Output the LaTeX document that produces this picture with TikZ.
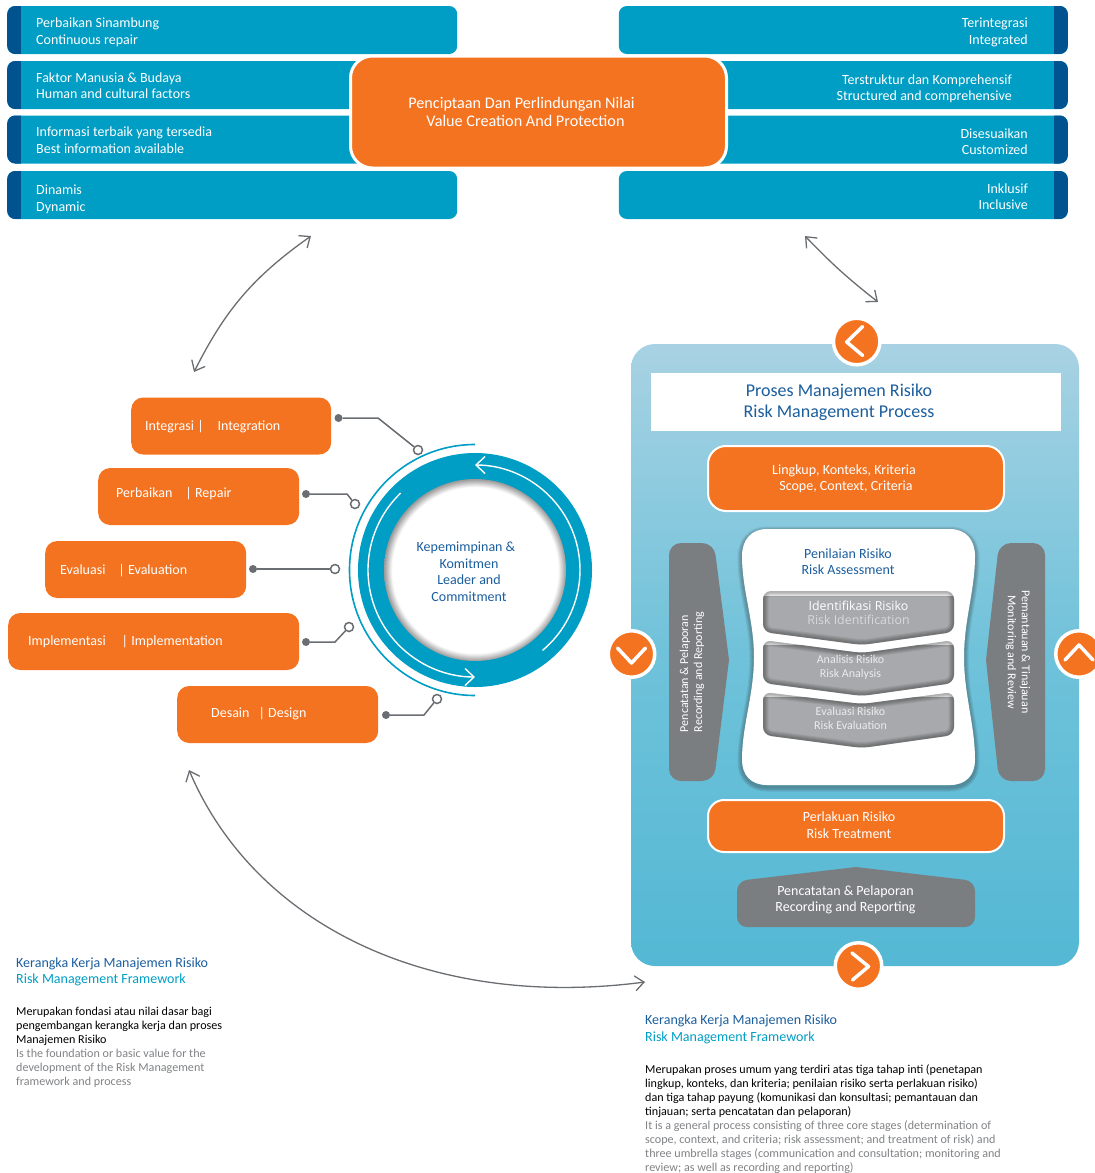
\documentclass[tikz,border=0pt]{standalone}
\usepackage{fontspec}
\setmainfont{Carlito}
\newfontfamily\Aidentfont{Open Sans}
\usetikzlibrary{arrows.meta}
\usetikzlibrary{calc}
\definecolor{Aorange}{HTML}{F47321}
\definecolor{Ablue}{HTML}{009DC4}
\definecolor{Adarkblue}{HTML}{00538F}
\definecolor{Ahead}{HTML}{1B5E9E}
\definecolor{Agrey}{HTML}{7B7E81}
\definecolor{Aline}{HTML}{6A6D71}
\definecolor{Atext}{HTML}{808285}
\definecolor{Achev}{HTML}{A7A9AC}
\definecolor{Apanelt}{HTML}{A8D2E3}
\definecolor{Apanelm}{HTML}{6FC2DA}
\definecolor{Apanelb}{HTML}{54B8D4}
\pgfdeclareradialshading{Acircleshade}{\pgfpointorigin}{color(0bp)=(white);color(22.8bp)=(white);color(25bp)=(black!40);color(50bp)=(black!40)}
\tikzset{
  txt/.style={font=\fontsize{14}{16.5}\selectfont,inner sep=0pt},
  dn/.style={execute at begin node={\rule{0pt}{#1}\spaceskip=.23em\relax}},
  barL/.style={txt,dn=0pt,fill=Ablue,text=white,rounded corners=8pt,anchor=west,minimum width=450pt,minimum height=48pt,
    inner xsep=29pt,text width=392pt,align=left,
    path picture={\fill[Adarkblue,sharp corners] (path picture bounding box.south west) rectangle ++(14,60);}},
  barR/.style={txt,dn=0pt,fill=Ablue,text=white,rounded corners=8pt,anchor=east,minimum width=449pt,minimum height=48pt,
    inner xsep=40pt,text width=369pt,align=right,
    path picture={\fill[Adarkblue,sharp corners] (path picture bounding box.south east) rectangle ++(-14,60);}},
  pill/.style 2 args={txt,dn=0pt,fill=Aorange,text=white,rounded corners=12pt,anchor=west,minimum height=57pt,
    inner xsep=#1,text width=#2-2*#1,align=left},
  stepbox/.style={fill=Aorange,draw=white,line width=2pt,rounded corners=16pt},
  dot/.style={circle,fill=Aline,inner sep=0pt,minimum size=8pt},
  ring/.style={circle,fill=white,draw=Aline,line width=1.5pt,inner sep=0pt,minimum size=9pt},
  wire/.style={draw=Aline,line width=1.5pt},
  link/.style={draw=Aline,line width=1.3pt,{Straight Barb[length=9pt,width=15pt]}-{Straight Barb[length=9pt,width=15pt]}},
  knob/.style={circle,fill=Aorange,draw=white,line width=3.5pt,inner sep=0pt,minimum size=46.5pt},
  chev/.style={draw=white,line width=3.5pt,line cap=round,line join=round},
  chevtxt/.style={font=\fontsize{12}{14}\selectfont,inner sep=0pt,align=center},
  para/.style={font=\fontsize{12.1}{14.05}\selectfont,inner sep=0pt,anchor=north west,align=left},
  headtxt/.style={txt,anchor=north west,align=left},
}
\newcommand{\Achevron}[4]{%
  \def\Apath{(763,-#1) -- (862,-#2) -- (954,-#1) -- (954,-#3) -- (862,-#4) -- (763,-#3) -- cycle}
  \begin{scope}
    \clip[rounded corners=8pt] \Apath;
    \fill[Achev] (760,-#1-5) rectangle (960,-#4-5);
    \foreach \w in {11,9,7,5,3}
      \draw[black,opacity=0.07,line width=\w pt,rounded corners=8pt] \Apath;
  \end{scope}
}

\begin{document}
\begin{tikzpicture}[x=1pt,y=1pt]
  \useasboundingbox (0,0) rectangle (1095,-1173);

  \node [barL,dn=14pt] (Arepair) at (7,-30) {Perbaikan Sinambung\\Continuous repair};
  \node [barL,dn=11pt] (Ahuman) at (7,-85) {Faktor Manusia \& Budaya\\Human and cultural factors};
  \node [barL,dn=11pt] (Abest) at (7,-139.5) {Informasi terbaik yang tersedia\\Best information available};
  \node [barL,dn=18pt] (Adynamic) at (7,-195) {Dinamis\\Dynamic};

  \node [barR,dn=14pt] (Bintegrated) at (1068,-30) {Terintegrasi\\Integrated};
  \node [barR,dn=17pt,inner xsep=56pt,text width=337pt] (Bstructured) at (1068,-85) {Terstruktur dan Komprehensif\hspace*{4pt}\\Structured and comprehensive};
  \node [barR,dn=14pt] (Bcustom) at (1068,-139.5) {Disesuaikan\\Customized};
  \node [barR,dn=13pt] (Binclusive) at (1068,-195) {Inklusif\\Inclusive};

  \node [fill=Aorange,draw=white,line width=3pt,rounded corners=22pt,minimum width=376pt,minimum height=112pt] (Avalue) at (538.5,-112) {};
  \node [txt,text=white,font=\fontsize{16.2}{18}\selectfont,align=center] (Avaluelab) at (521.5,-112) {Penciptaan Dan Perlindungan Nilai\\\hspace*{8pt}Value Creation And Protection};

  % arrows between the three parts
  \coordinate (Ltop) at (311,-236);
  \coordinate (Lbot) at (194,-372);
  \coordinate (Rtop) at (805,-236);
  \coordinate (Rbot) at (878,-302);
  \coordinate (Bleft) at (189,-770);
  \coordinate (Bright) at (645,-982);
  \path [link] (Ltop) to[bend right=14] (Lbot);
  \path [link] (Rtop) to[bend right=4] (Rbot);
  \path [link] (Bleft) .. controls (255,-925) and (430,-1010) .. (Bright);

  % framework pills
  \node [pill={14pt}{200pt}] (Pinteg) at (131,-426) {\raisebox{-1pt}[\height][\depth]{Integrasi |\hspace{14pt}Integration}};
  \node [pill={18pt}{201pt}] (Prepair) at (98,-496.5) {\raisebox{3pt}[\height][\depth]{Perbaikan\hspace{13pt}| Repair}};
  \node [pill={15pt}{201pt}] (Peval) at (45,-569.5) {\raisebox{-1pt}[\height][\depth]{Evaluasi\hspace{13pt}| Evaluation}};
  \node [pill={20pt}{291pt}] (Pimpl) at (8,-641.5) {Implementasi\hspace{16pt}| Implementation};
  \node [pill={34pt}{201pt}] (Pdesign) at (177,-714.5) {\raisebox{1pt}[\height][\depth]{Desain\hspace{9pt}| Design}};

  % leader circle
  \node [circle,fill=Ablue,minimum size=234pt,inner sep=0pt] (Aring) at (475,-570) {};
  \node [circle,shading=Acircleshade,minimum size=182pt,inner sep=0pt] (Ainner) at (475,-570) {};
  \node [txt,text=Ahead,align=center] (Ainnerlab) at (469,-571.5) {Kepemimpinan \&\hspace*{6pt}\\Komitmen\\Leader and\\Commitment};
  \draw [Ablue,line width=1.6pt] (Aring.center) ++(90:125.5) arc[start angle=90,end angle=270,radius=125.5];
  \draw [white,line width=1.4pt,-{Straight Barb[length=9pt,width=17pt]}] (Aring.center) ++(-50:105) arc[start angle=-50,end angle=90,radius=105];
  \draw [white,line width=1.4pt,-{Straight Barb[length=9pt,width=17pt]}] (Aring.center) ++(134:107) arc[start angle=134,end angle=270,radius=107];

  % wires
  \node [dot] (D1) at (338.5,-418) {};
  \node [ring] (C1) at (418,-450) {};
  \node [dot] (D2) at (306,-494) {};
  \node [ring] (C2) at (355,-504) {};
  \node [dot] (D3) at (253,-569) {};
  \node [ring] (C3) at (335,-569) {};
  \node [dot] (D4) at (306,-642) {};
  \node [ring] (C4) at (349,-627) {};
  \node [dot] (D5) at (386,-715) {};
  \node [ring] (C5) at (437,-699) {};
  \path [wire] (D1) -- (378,-418) -- (C1);
  \path [wire] (D2) -- (347,-494) -- (C2);
  \path [wire] (D3) -- (C3);
  \path [wire] (D4) -- (335,-642) -- (C4);
  \path [wire] (D5) -- (424,-715) -- (C5);

  % process panel
  \path [rounded corners=24pt,top color=Apanelt,bottom color=Apanelb,middle color=Apanelm] (631,-344) rectangle (1079,-966);
  \node [fill=white,minimum width=410pt,minimum height=58pt,inner sep=0pt] (Atitle) at (856,-402) {};
  \node [inner sep=0pt,text=Ahead,font=\fontsize{18}{21}\selectfont,align=center] (Atitlelab) at (839,-402) {Proses Manajemen Risiko\\Risk Management Process};

  \node [stepbox,rounded corners=18pt,minimum width=296pt,minimum height=65pt] (Ascope) at (856,-478.5) {};
  \node [txt,text=white,align=center] (Ascopelab) at (844,-479) {Lingkup, Konteks, Kriteria\\\hspace*{4pt}Scope, Context, Criteria};
  \node [stepbox,minimum width=296pt,minimum height=52pt] (Atreat) at (856,-826) {};
  \node [txt,text=white,align=center] (Atreatlab) at (849,-825) {Perlakuan Risiko\\Risk Treatment};

  % side and bottom arrows
  \fill [Agrey,rounded corners=12pt] (669,-543) -- (714,-543) [sharp corners] -- (729,-660) [rounded corners=12pt] -- (714,-781) -- (669,-781) -- cycle;
  \fill [Agrey,rounded corners=12pt] (1045,-543) -- (999,-543) [sharp corners] -- (986,-660) [rounded corners=12pt] -- (999,-781) -- (1045,-781) -- cycle;
  \fill [Agrey,rounded corners=10pt] (737,-927) -- (737,-881) [sharp corners] -- (856,-867) [rounded corners=10pt] -- (975,-881) -- (975,-927) -- cycle;
  \node [chevtxt,text=white,rotate=90,align=left] (Lsidelab) at (692,-672) {Pencatatan \& Pelaporan\\Recording and Reporting};
  \node [chevtxt,text=white,rotate=-90] (Rsidelab) at (1018,-652) {Pemantauan \& Tinajauan\\Monitoring and Review};
  \node [txt,text=white,align=center] (Arecordlab) at (845.5,-900) {Pencatatan \& Pelaporan\\Recording and Reporting};

  % risk assessment
  \def\Aassess{(767,-529) -- (950,-529) .. controls (966,-529) and (975,-540) .. (975,-556) .. controls (975,-590) and (964,-620) .. (964,-657) .. controls (964,-695) and (975,-725) .. (975,-760) .. controls (975,-775) and (966,-785) .. (950,-785) -- (767,-785) .. controls (751,-785) and (742,-775) .. (742,-760) .. controls (742,-725) and (754,-695) .. (754,-657) .. controls (754,-620) and (742,-590) .. (742,-556) .. controls (742,-540) and (751,-529) .. (767,-529) -- cycle}
  \foreach \w in {9,7,5,3}
    \draw [black!80,opacity=0.1,line width=\w pt,yshift=-2pt] \Aassess;
  \fill [white] \Aassess;
  \node [txt,text=Ahead,align=center] (Aassesslab) at (848,-561.5) {Penilaian Risiko\\Risk Assessment};

  \Achevron{591}{591}{632}{645}
  \Achevron{640}{653}{683}{696}
  \Achevron{692}{704}{735}{748}
  \node [inner sep=0pt,align=center,text=white,font=\Aidentfont\fontsize{12.4}{14}\selectfont] (Aident) at (858.5,-612.5) {\textcolor{white}{Identifikasi Risiko}\\\textcolor{black!15}{Risk Identification}};
  \node [chevtxt,text=black!8] (Aanal) at (850.5,-667.5) {Analisis Risiko\\Risk Analysis};
  \node [chevtxt,text=black!8] (Aevalu) at (850.5,-718) {Evaluasi Risiko\\Risk Evaluation};

  % orange knobs
  \node [knob] (Ktop) at (856.7,-341.5) {};
  \draw [chev] (Ktop.center) ++(6,15) -- ++(-16,-15.5) -- ++(16,-13.5);
  \node [knob] (Kleft) at (631.5,-654) {};
  \draw [chev] (Kleft.center) ++(-14,6) -- ++(14,-15) -- ++(14,15);
  \node [knob] (Kright) at (1079,-654) {};
  \draw [chev] (Kright.center) ++(-14,-6) -- ++(14,15) -- ++(14,-15);
  \node [knob] (Kbot) at (858.5,-966) {};
  \draw [chev] (Kbot.center) ++(-6.5,13) -- ++(16.5,-13.5) -- ++(-16,-13.5);

  % captions
  \node [headtxt] (Fhead) at (16,-957.5) {\textcolor{Ahead}{Kerangka Kerja Manajemen Risiko}\\\textcolor{Ablue}{Risk Management Framework}};
  \node [para] (Fbody) at (16,-1007) {Merupakan fondasi atau nilai dasar bagi\\pengembangan kerangka kerja dan proses\\Manajemen Risiko\\\textcolor{Atext}{Is the foundation or basic value for the}\\\textcolor{Atext}{development of the Risk Management}\\\textcolor{Atext}{framework and process}};
  \node [headtxt] (Ghead) at (645,-1015) {\textcolor{Ahead}{Kerangka Kerja Manajemen Risiko}\\\textcolor{Ablue}{Risk Management Framework}};
  \node [para] (Gbody) at (645,-1064) {Merupakan proses umum yang terdiri atas tiga tahap inti (penetapan\\lingkup, konteks, dan kriteria; penilaian risiko serta perlakuan risiko)\\dan tiga tahap payung (komunikasi dan konsultasi; pemantauan dan\\tinjauan; serta pencatatan dan pelaporan)\\\textcolor{Atext}{It is a general process consisting of three core stages (determination of}\\\textcolor{Atext}{scope, context, and criteria; risk assessment; and treatment of risk) and}\\\textcolor{Atext}{three umbrella stages (communication and consultation; monitoring and}\\\textcolor{Atext}{review; as well as recording and reporting)}};
\end{tikzpicture}
\end{document}
